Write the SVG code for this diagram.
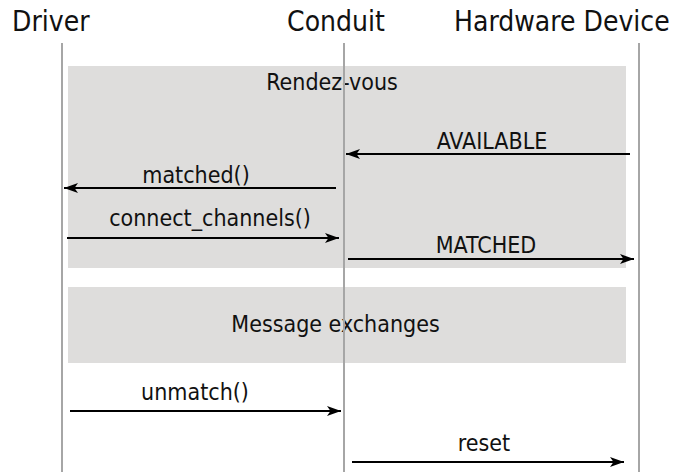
<svg xmlns="http://www.w3.org/2000/svg" width="683" height="472" viewBox="0 0 683 472">
  <style>
    .hdr { font-family: "DejaVu Sans Condensed", "DejaVu Sans", sans-serif; font-stretch: condensed; font-size: 28px; fill: #111; }
    .lbl { font-family: "DejaVu Sans Condensed", "DejaVu Sans", sans-serif; font-stretch: condensed; font-size: 23px; fill: #111; text-anchor: middle; }
    .life { stroke: #a6a6a6; stroke-width: 2; fill: none; }
    .frag { fill: #dedddc; stroke: none; }
    .msg { stroke: #000; stroke-width: 2; fill: none; marker-end: url(#arr); }
  </style>
  <defs>
    <marker id="arr" markerUnits="userSpaceOnUse" markerWidth="16" markerHeight="12" viewBox="-15 -6 16 12" refX="0" refY="0" orient="auto">
      <path d="M0,0 L-14,-5 L-10.5,0 L-14,5 Z" fill="#000"/>
    </marker>
  </defs>

  <g id="frag-rendezvous">
    <rect class="frag" x="68" y="66" width="558" height="202"/>
    <text class="lbl" x="332" y="90">Rendez-vous</text>
  </g>
  <g id="frag-messages">
    <rect class="frag" x="68" y="287" width="558" height="76"/>
    <text class="lbl" x="335.5" y="331.5">Message exchanges</text>
  </g>

  <g id="driver">
    <text class="hdr" x="12" y="31">Driver</text>
    <line class="life" x1="62" y1="43" x2="62" y2="472"/>
  </g>
  <g id="conduit">
    <text class="hdr" x="336" y="31" text-anchor="middle">Conduit</text>
    <line class="life" x1="344" y1="43" x2="344" y2="472"/>
  </g>
  <g id="hardware">
    <text class="hdr" x="454" y="31">Hardware Device</text>
    <line class="life" x1="639" y1="43" x2="639" y2="472"/>
  </g>

  <g id="connectors">
    <line class="msg" x1="630" y1="154" x2="346" y2="154"/>
    <text class="lbl" x="492" y="149">AVAILABLE</text>
    <line class="msg" x1="336" y1="188" x2="64" y2="188"/>
    <text class="lbl" x="196" y="183">matched()</text>
    <line class="msg" x1="67" y1="238" x2="339" y2="238"/>
    <text class="lbl" x="210" y="226">connect_channels()</text>
    <line class="msg" x1="348" y1="259" x2="634" y2="259"/>
    <text class="lbl" x="486" y="253">MATCHED</text>
    <line class="msg" x1="70" y1="411" x2="341" y2="411"/>
    <text class="lbl" x="195" y="400">unmatch()</text>
    <line class="msg" x1="352" y1="462" x2="624" y2="462"/>
    <text class="lbl" x="484" y="451">reset</text>
  </g>
</svg>
